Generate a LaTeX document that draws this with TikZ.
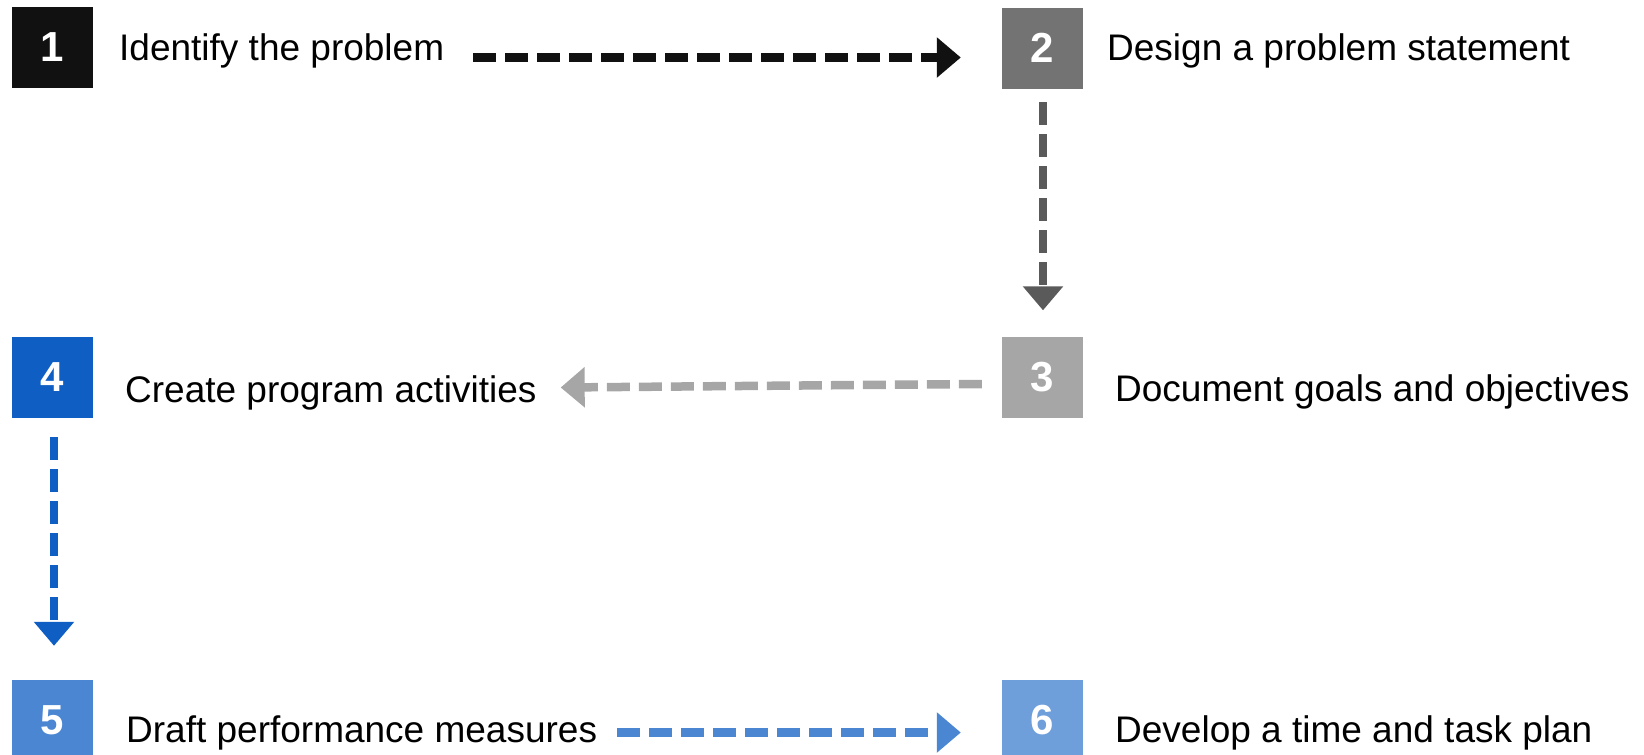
\documentclass[tikz,border=0pt]{standalone}
\usepackage{fontspec}
\setmainfont{Liberation Sans}
\usetikzlibrary{arrows.meta,calc}

\definecolor{stepA}{HTML}{111111}
\definecolor{stepB}{HTML}{737373}
\definecolor{stepC}{HTML}{A6A6A6}
\definecolor{stepD}{HTML}{0E5EC4}
\definecolor{stepE}{HTML}{4A86D2}
\definecolor{stepF}{HTML}{6E9FDB}
\definecolor{linkB}{HTML}{5A5A5A}

\tikzset{
  numbox/.style={rectangle, minimum width=81pt, minimum height=81pt, inner sep=0pt,
    text=white, font=\fontsize{42pt}{50pt}\selectfont\bfseries},
  steptext/.style={anchor=base west, inner sep=0pt, text=black,
    font=\fontsize{37pt}{44pt}\selectfont},
  flow/.style={line width=8.5pt, dash pattern=on 23pt off 9pt,
    -{Triangle[length=24pt,width=39pt]}}
}

\begin{document}
\begin{tikzpicture}[x=1pt,y=-1pt]
  \useasboundingbox (0,0) rectangle (1644,755);
  \clip (0,0) rectangle (1644,755);

  % numbered step boxes
  \node[numbox, fill=stepA] (n1) at (52,47)      {1};
  \node[numbox, fill=stepB] (n2) at (1042.5,48)  {2};
  \node[numbox, fill=stepC] (n3) at (1042.5,377) {3};
  \node[numbox, fill=stepD] (n4) at (52,377)     {4};
  \node[numbox, fill=stepE] (n5) at (52,720.5)   {5};
  \node[numbox, fill=stepF] (n6) at (1042.5,720.5) {6};

  % step descriptions
  \node[steptext] (t1) at (119,60)   {Identify the problem};
  \node[steptext] (t2) at (1107,60)  {Design a problem statement};
  \node[steptext] (t3) at (1115,401) {Document goals and objectives};
  \node[steptext] (t4) at (125,402)  {Create program activities};
  \node[steptext] (t5) at (126,742)  {Draft performance measures};
  \node[steptext] (t6) at (1115,742) {Develop a time and task plan};

  % flow between the steps
  \draw[flow, stepA] ($(t1.east |- n1.center)+(29,10.5)$) -- ($(n2.west |- n1.center)+(-41,10.5)$);
  \draw[flow, linkB] ($(n2.south)+(0.5,13.5)$) -- ($(n3.north)+(0.5,-26)$);
  \draw[flow, stepC] ($(n3.west)+(-20,7)$) -- ($(t4.east |- n4.center)+(24,10.5)$);
  \draw[flow, stepD] ($(n4.south)+(2,19.5)$) -- ($(n5.north)+(2,-34)$);
  \draw[flow, stepE] ($(t5.east |- n5.center)+(20,12)$) -- ($(n6.west)+(-41,12)$);
\end{tikzpicture}
\end{document}
